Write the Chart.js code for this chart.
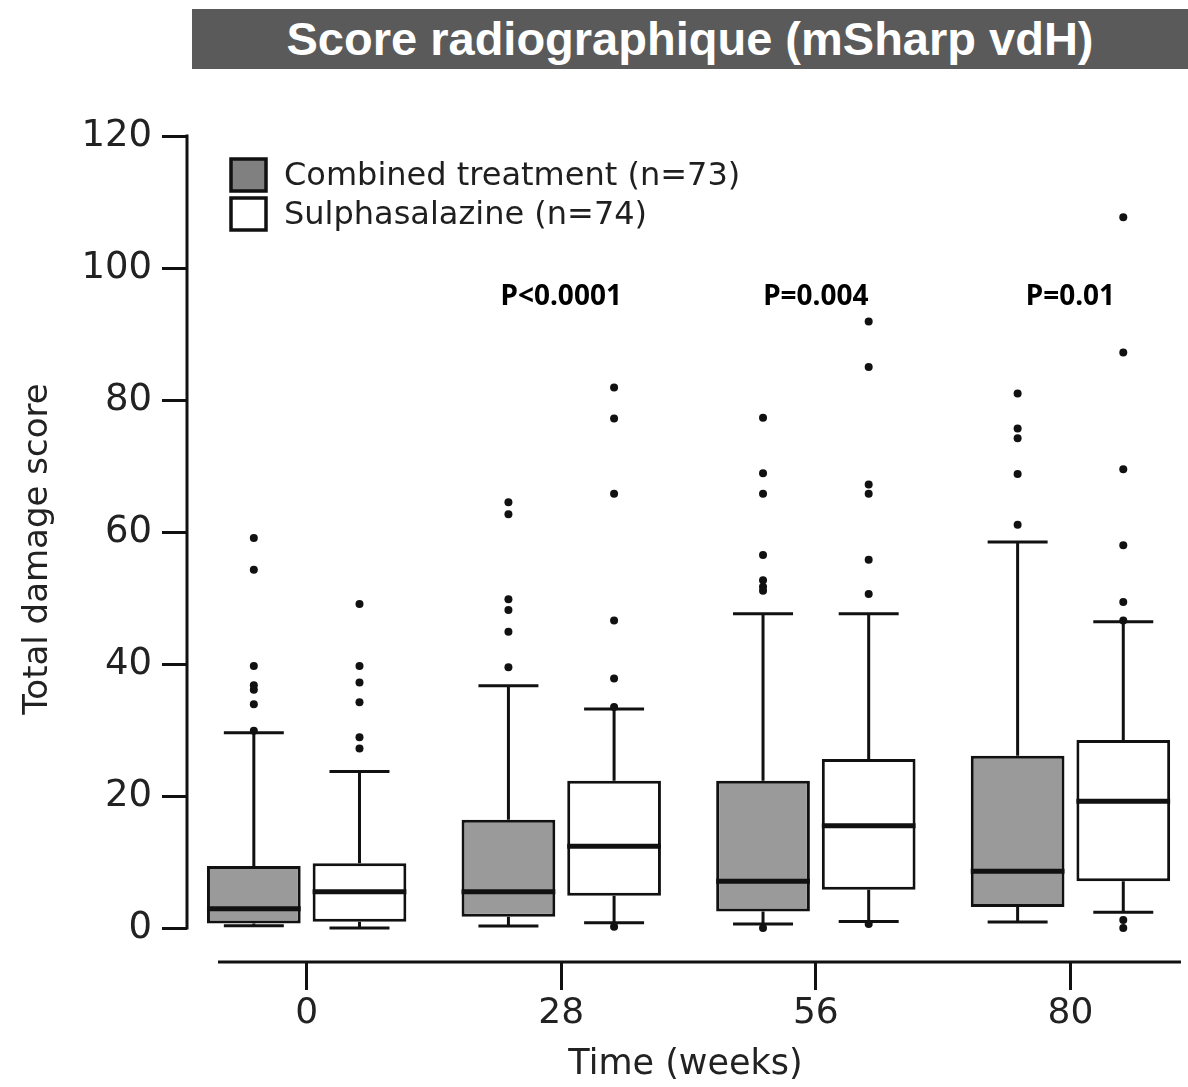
<!DOCTYPE html>
<html>
<head>
<meta charset="utf-8">
<title>Score radiographique (mSharp vdH)</title>
<script src="https://cdn.jsdelivr.net/npm/chart.js@4.4.1/dist/chart.umd.min.js"></script>
<style>
  html, body { margin: 0; padding: 0; background: #fff; }
  #wrap { position: relative; width: 1188px; height: 1087px; }
  #wrap canvas { position: absolute; left: 0; top: 0; }
  #banner {
    position: absolute; left: 192px; top: 9px; width: 996px; height: 60px;
    background: #5a5a5a; color: #fff; text-align: center;
    font: bold 47px "Liberation Sans", Arial, sans-serif; line-height: 60px;
  }
</style>
</head>
<body>
<div id="wrap">
  <canvas id="scoreChart" width="1188" height="1087"></canvas>
  <div id="banner">Score radiographique (mSharp vdH)</div>
</div>
<script>
// Time points and y ticks
const weeks = ["0", "28", "56", "80"];
const yTicks = [0, 20, 40, 60, 80, 100, 120];

// Combined treatment boxes
const combinedQ1 = [0.7, 1.7, 2.5, 3.2];
const combinedMedian = [2.9, 5.5, 7.1, 8.6];
const combinedQ3 = [9.4, 16.4, 22.3, 26.1];
const combinedLow = [0.35, 0.3, 0.6, 0.9];
const combinedHigh = [29.6, 36.7, 47.6, 58.5];
const combinedOutliers = [
  [59.1, 54.3, 39.7, 36.8, 36.1, 33.9, 29.9],
  [64.5, 62.7, 49.8, 48.2, 44.9, 39.5],
  [77.3, 68.9, 65.8, 56.5, 52.7, 51.7, 51.1, 0],
  [81.0, 75.7, 74.2, 68.8, 61.1]
];

// Sulphasalazine boxes
const sulphaQ1 = [0.95, 4.9, 5.8, 7.1];
const sulphaMedian = [5.5, 12.4, 15.5, 19.2];
const sulphaQ3 = [9.8, 22.3, 25.6, 28.5];
const sulphaLow = [0, 0.8, 1.0, 2.4];
const sulphaHigh = [23.7, 33.2, 47.6, 46.4];
const sulphaOutliers = [
  [49.1, 39.7, 37.2, 34.2, 28.9, 27.2],
  [81.9, 77.2, 65.8, 46.6, 37.8, 33.5, 0.2],
  [91.9, 85.0, 67.2, 65.8, 55.8, 50.6, 0.6],
  [107.7, 87.2, 69.5, 58.0, 49.4, 46.6, 1.2, 0]
];

// p-values per time point
const pValues = ["", "P<0.0001", "P=0.004", "P=0.01"];
const pLabelLevel = 95.6;

const CAT_PCT = 0.83;
const BAR_PCT = 0.887;
const TICK_FONT = "'DejaVu Sans', Verdana, sans-serif";

const groups = [
  { label: "Combined treatment (n=73)", fill: "#9a9a9a", swatch: "#808080", side: -1,
    q1: combinedQ1, median: combinedMedian, q3: combinedQ3, low: combinedLow, high: combinedHigh, outliers: combinedOutliers },
  { label: "Sulphasalazine (n=74)", fill: "#ffffff", swatch: "#ffffff", side: 1,
    q1: sulphaQ1, median: sulphaMedian, q3: sulphaQ3, low: sulphaLow, high: sulphaHigh, outliers: sulphaOutliers }
];

const boxSets = groups.map(g => ({
  type: "bar",
  label: g.label,
  order: 1,
  data: weeks.map((w, i) => ({ x: i, y: [g.q1[i], g.q3[i]] })),
  backgroundColor: g.fill,
  borderColor: "#111",
  borderWidth: 3,
  borderSkipped: false,
  categoryPercentage: CAT_PCT,
  barPercentage: BAR_PCT,
  stats: g
}));

// outlier dots sit at the centre of their box slot
const dotSets = groups.map(g => ({
  type: "scatter",
  label: g.label + " outliers",
  order: 0,
  data: g.outliers.flatMap((list, i) => list.map(v => ({ x: i + g.side * CAT_PCT / 4, y: v }))),
  pointRadius: 4,
  pointBackgroundColor: "#111",
  pointBorderWidth: 0
}));

// medians and whiskers, drawn right after each box dataset
const whiskers = {
  id: "whiskers",
  afterDatasetDraw(chart, args) {
    const meta = args.meta;
    if (meta.type !== "bar") return;
    const s = chart.data.datasets[args.index].stats;
    const y = chart.scales.y;
    const ctx = chart.ctx;
    ctx.save();
    ctx.strokeStyle = "#111";
    ctx.lineCap = "butt";
    meta.data.forEach((el, i) => {
      const half = el.width / 2;
      const cap = el.width * 0.32;
      const yq1 = y.getPixelForValue(s.q1[i]);
      const yq3 = y.getPixelForValue(s.q3[i]);
      const ylo = y.getPixelForValue(s.low[i]);
      const yhi = y.getPixelForValue(s.high[i]);
      ctx.lineWidth = 3;
      ctx.beginPath();
      ctx.moveTo(el.x, yq3); ctx.lineTo(el.x, yhi);
      ctx.moveTo(el.x - cap, yhi); ctx.lineTo(el.x + cap, yhi);
      ctx.moveTo(el.x, yq1); ctx.lineTo(el.x, ylo);
      ctx.moveTo(el.x - cap, ylo); ctx.lineTo(el.x + cap, ylo);
      ctx.stroke();
      ctx.lineWidth = 5;
      ctx.beginPath();
      const ym = y.getPixelForValue(s.median[i]);
      ctx.moveTo(el.x - half, ym); ctx.lineTo(el.x + half, ym);
      ctx.stroke();
    });
    ctx.restore();
  }
};

// detached axis lines, legend and p-values
const decorations = {
  id: "decorations",
  afterDraw(chart) {
    const { ctx, chartArea, scales: { x, y } } = chart;
    ctx.save();
    ctx.strokeStyle = "#111";
    ctx.lineWidth = 3;
    ctx.beginPath();
    ctx.moveTo(chartArea.left, y.getPixelForValue(0) + 1.5);
    ctx.lineTo(chartArea.left, y.getPixelForValue(120) - 1.5);
    ctx.moveTo(chartArea.left + 31, chartArea.bottom);
    ctx.lineTo(chartArea.right - 3, chartArea.bottom);
    ctx.stroke();

    // legend
    ctx.font = "32px " + TICK_FONT;
    ctx.textBaseline = "middle";
    ctx.textAlign = "left";
    groups.forEach((g, k) => {
      const bx = chartArea.left + 44;
      const by = chartArea.top + 23 + k * 39;
      ctx.fillStyle = g.swatch;
      ctx.fillRect(bx, by, 35, 32);
      ctx.lineWidth = 3.5;
      ctx.strokeRect(bx, by, 35, 32);
      ctx.fillStyle = "#1f1f1f";
      ctx.fillText(g.label, bx + 53, by + 18);
    });

    // p-values
    ctx.font = "bold 28px 'Noto Sans', sans-serif";
    ctx.textAlign = "center";
    ctx.fillStyle = "#000";
    pValues.forEach((p, i) => {
      if (p) ctx.fillText(p, x.getPixelForValue(i), y.getPixelForValue(pLabelLevel));
    });
    ctx.restore();
  }
};

new Chart(document.getElementById("scoreChart"), {
  type: "bar",
  data: { datasets: [...boxSets, ...dotSets] },
  options: {
    responsive: false,
    animation: false,
    devicePixelRatio: 1,
    layout: { padding: { top: 136, left: 0, right: 0, bottom: 0 } },
    plugins: { legend: { display: false }, tooltip: { enabled: false } },
    scales: {
      x: {
        type: "linear",
        min: -0.47,
        max: 3.446,
        offset: false,
        afterBuildTicks: s => { s.ticks = weeks.map((w, i) => ({ value: i })); },
        afterFit: s => { s.height = 125; },
        grid: { offset: false, drawOnChartArea: false, drawTicks: true, tickLength: 28, lineWidth: 3, color: "#111" },
        border: { display: false },
        ticks: {
          callback: (v, i) => weeks[i],
          font: { family: TICK_FONT, size: 36 },
          color: "#222",
          padding: 2,
          maxRotation: 0,
          autoSkip: false
        },
        title: {
          display: true,
          text: "Time (weeks)",
          font: { family: TICK_FONT, size: 35 },
          color: "#222",
          padding: { top: 0, bottom: 1 }
        }
      },
      y: {
        min: -5.15,
        max: 120,
        afterBuildTicks: s => { s.ticks = yTicks.map(v => ({ value: v })); },
        afterFit: s => { s.width = 187; },
        grid: { drawOnChartArea: false, drawTicks: true, tickLength: 25, lineWidth: 3, color: "#111" },
        border: { display: false },
        ticks: {
          font: { family: TICK_FONT, size: 37 },
          color: "#222",
          padding: 10
        },
        title: {
          display: true,
          text: "Total damage score",
          font: { family: TICK_FONT, size: 34 },
          color: "#222",
          padding: { top: 18, bottom: 0 }
        }
      }
    }
  },
  plugins: [whiskers, decorations]
});
</script>
</body>
</html>
